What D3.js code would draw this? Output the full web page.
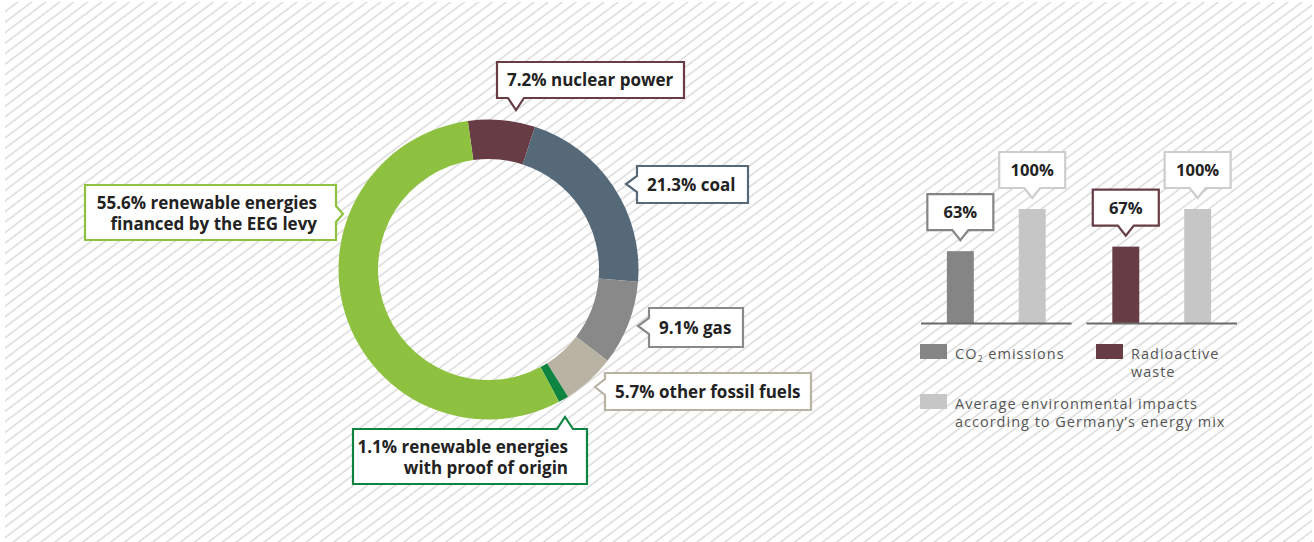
<!DOCTYPE html>
<html>
<head>
<meta charset="utf-8">
<script src="https://cdn.jsdelivr.net/npm/d3@7"></script>
<style>
  html, body { margin: 0; padding: 0; background: #fff; }
  svg { display: block; font-family: "Open Sans", sans-serif; }
</style>
</head>
<body>
<div id="chart"></div>
<script>
// donut: shares of the energy mix (%)
const segments = ["nuclear", "coal", "gas", "other", "proof", "eeg"];
const shares = [7.2, 21.3, 9.1, 5.7, 1.1, 55.6];
const segColors = ["#673c45", "#566978", "#898989", "#b8b3a3", "#0f8440", "#8dc13f"];
const segLabels = [
  ["7.2% nuclear power"],
  ["21.3% coal"],
  ["9.1% gas"],
  ["5.7% other fossil fuels"],
  ["1.1% renewable energies", "with proof of origin"],
  ["55.6% renewable energies", "financed by the EEG levy"]
];

// bars: environmental impact vs. average german mix (%)
const groups = ["co2", "waste"];
const barKeys = ["own", "avg"];
const co2Values = [63, 100];
const wasteValues = [67, 100];
const barColors = { co2: "#858585", waste: "#673c45", avg: "#c6c6c6" };

const width = 1314, height = 542;

const svg = d3.select("#chart").append("svg")
  .attr("width", width).attr("height", height);

// hatched background
const defs = svg.append("defs");
const pat = defs.append("pattern")
  .attr("id", "hatch")
  .attr("patternUnits", "userSpaceOnUse")
  .attr("width", 20).attr("height", 8.4)
  .attr("patternTransform", "rotate(-37)");
pat.append("line")
  .attr("x1", 0).attr("y1", 4).attr("x2", 20).attr("y2", 4)
  .attr("stroke", "#d6d6d6").attr("stroke-width", 1.3);

svg.append("rect").attr("width", width).attr("height", height).attr("fill", "#fff");
svg.append("rect").attr("x", 5).attr("y", 2).attr("width", 1307).attr("height", 540)
  .attr("fill", "url(#hatch)");

// rectangle with a little pointer notch on one side
function boxPath(b) {
  const x = b.x, y = b.y, w = b.w, h = b.h, at = b.at, hw = 8, d = b.d || 11;
  let p = `M${x},${y}`;
  if (b.side === "top") p += `L${at - hw},${y}L${at},${y - d}L${at + hw},${y}`;
  p += `L${x + w},${y}`;
  if (b.side === "right") p += `L${x + w},${at - hw}L${x + w + d},${at}L${x + w},${at + hw}`;
  p += `L${x + w},${y + h}`;
  if (b.side === "bottom") p += `L${at + hw},${y + h}L${at},${y + h + d}L${at - hw},${y + h}`;
  p += `L${x},${y + h}`;
  if (b.side === "left") p += `L${x},${at + hw}L${x - d},${at}L${x},${at - hw}`;
  return p + "Z";
}

// ---- donut
const cx = 488.5, cy = 269.5;
const pie = d3.pie().sort(null).value(d => d)
  .startAngle(-0.138).endAngle(-0.138 + 2 * Math.PI);
const arc = d3.arc().innerRadius(110.5).outerRadius(150);

svg.append("g")
  .attr("transform", `translate(${cx},${cy})`)
  .selectAll("path")
  .data(pie(shares))
  .join("path")
  .attr("d", arc)
  .attr("fill", (d, i) => segColors[i]);

// callout boxes layout
const callouts = {
  nuclear: { x: 497, y: 62, w: 187, h: 36, side: "bottom", at: 516, d: 12, align: "left" },
  coal:    { x: 637, y: 166, w: 111, h: 37, side: "left", at: 184, align: "left" },
  gas:     { x: 649, y: 308, w: 94, h: 39, side: "left", at: 326, align: "left" },
  other:   { x: 605, y: 373, w: 206, h: 37, side: "left", at: 387, d: 10, align: "left" },
  proof:   { x: 353, y: 429, w: 234, h: 55, side: "top", at: 565, d: 12, align: "right" },
  eeg:     { x: 85, y: 185, w: 251, h: 55, side: "right", at: 214, d: 7, align: "right" }
};

segments.forEach((key, i) => {
  const b = callouts[key];
  const g = svg.append("g");
  g.append("path").attr("d", boxPath(b))
    .attr("fill", "#fff").attr("stroke", segColors[i]).attr("stroke-width", 2.2);
  const lines = segLabels[i];
  const mid = b.y + b.h / 2;
  const t = g.append("text")
    .attr("font-size", 17).attr("font-weight", 700).attr("fill", "#222")
    .attr("text-anchor", b.align === "right" ? "end" : "start");
  lines.forEach((ln, j) => {
    t.append("tspan")
      .attr("x", b.align === "right" ? b.x + b.w - 19 : b.x + 10)
      .attr("y", lines.length === 1 ? mid + 6 : mid - 4 + j * 21.5)
      .text(ln);
  });
});

// ---- bars
const x0 = d3.scaleBand().domain(groups).range([921, 1237]).paddingInner(0.09);
const x1 = d3.scaleBand().domain(barKeys).range([0, x0.bandwidth()])
  .paddingInner(0.625).paddingOuter(0.36);
const y = d3.scaleLinear().domain([0, 100]).range([323, 209]);

const groupData = { co2: co2Values, waste: wasteValues };

groups.forEach(gk => {
  const g = svg.append("g").attr("transform", `translate(${x0(gk)},0)`);
  const vals = groupData[gk];
  barKeys.forEach((bk, j) => {
    const v = vals[j];
    const col = bk === "avg" ? barColors.avg : barColors[gk];
    const bx = x1(bk), bw = x1.bandwidth();
    g.append("rect")
      .attr("x", bx).attr("y", y(v))
      .attr("width", bw).attr("height", y(0) - y(v))
      .attr("fill", col);
    // value callout
    const c = bx + bw / 2;
    const apex = y(v) - 11;
    const box = { x: c - 33, y: apex - 10 - 36, w: 66, h: 36, side: "bottom", at: c, d: 10 };
    g.append("path").attr("d", boxPath(box))
      .attr("fill", "#fff").attr("stroke", bk === "avg" ? "#cdcdcd" : col).attr("stroke-width", 2.2);
    g.append("text")
      .attr("x", c).attr("y", box.y + box.h / 2 + 6)
      .attr("text-anchor", "middle")
      .attr("font-size", 16.5).attr("font-weight", 700).attr("fill", "#222")
      .text(v + "%");
  });
  g.append("line")
    .attr("x1", 0).attr("x2", x0.bandwidth())
    .attr("y1", y(0) + 0.5).attr("y2", y(0) + 0.5)
    .attr("stroke", "#6a6a6a").attr("stroke-width", 2);
});

// ---- legend
const legend = svg.append("g").attr("font-size", 14.5).attr("letter-spacing", 1).attr("fill", "#555");
const legendItems = [
  { x: 920, y: 344, color: barColors.co2, lines: null },
  { x: 1096, y: 344, color: barColors.waste, lines: ["Radioactive", "waste"] },
  { x: 920, y: 394, color: barColors.avg, lines: ["Average environmental impacts", "according to Germany\u2019s energy mix"] }
];
legendItems.forEach(it => {
  legend.append("rect").attr("x", it.x).attr("y", it.y)
    .attr("width", 27).attr("height", 15).attr("fill", it.color);
  const t = legend.append("text");
  if (!it.lines) {
    t.attr("x", it.x + 35).attr("y", it.y + 15);
    t.append("tspan").text("CO");
    t.append("tspan").attr("font-size", 9).attr("dy", 3).text("2");
    t.append("tspan").attr("dy", -3).text(" emissions");
  } else {
    it.lines.forEach((ln, j) => {
      t.append("tspan").attr("x", it.x + 35).attr("y", it.y + 15 + j * 18).text(ln);
    });
  }
});
</script>
</body>
</html>
